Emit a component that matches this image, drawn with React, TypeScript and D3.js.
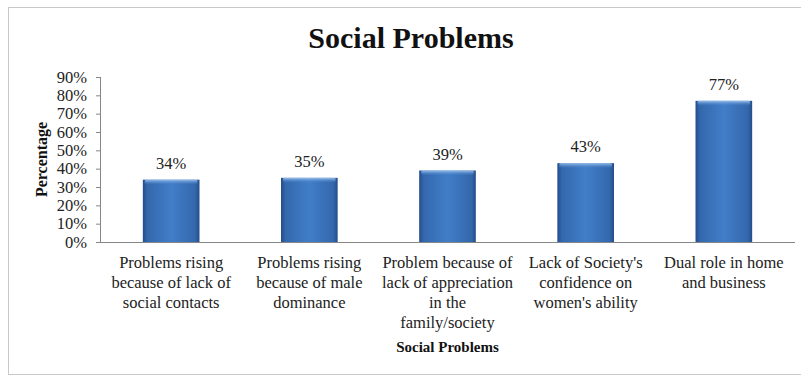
import React from "react";
import * as d3 from "d3";

const categories: string[][] = [
  ["Problems rising", "because of lack of", "social contacts"],
  ["Problems rising", "because of male", "dominance"],
  ["Problem because of", "lack of appreciation", "in the", "family/society"],
  ["Lack of Society's", "confidence on", "women's ability"],
  ["Dual role in home", "and business"],
];
const values: number[] = [0.34, 0.35, 0.39, 0.43, 0.77];
const yTicks: number[] = [0, 0.1, 0.2, 0.3, 0.4, 0.5, 0.6, 0.7, 0.8, 0.9];
const title = "Social Problems";
const xTitle = "Social Problems";
const yTitle = "Percentage";

const W = 801;
const H = 377;
const left = 100;
const right = 795;
const top = 77;
const bottom = 242;
const font = "'Liberation Serif', 'Times New Roman', serif";

export default function App() {
  const idx = categories.map((_, i) => String(i));
  const x = d3.scaleBand<string>().domain(idx).range([left, right]).paddingInner(0.59).paddingOuter(0.31);
  const y = d3.scaleLinear().domain([0, 0.9]).range([bottom, top]);
  const pct = d3.format(".0%");
  return (
    <svg
      width={W}
      height={H}
      style={{ position: "absolute", left: 0, top: 0, background: "#fff" }}
      fontFamily={font}
    >
      <defs>
        <linearGradient id="barG" x1="0" x2="1" y1="0" y2="0">
          <stop offset="0" stopColor="#244d8a" />
          <stop offset="0.08" stopColor="#3468ad" />
          <stop offset="0.5" stopColor="#417ec8" />
          <stop offset="0.92" stopColor="#3468ad" />
          <stop offset="1" stopColor="#244d8a" />
        </linearGradient>
        <linearGradient id="bevel" x1="0" x2="0" y1="0" y2="1">
          <stop offset="0" stopColor="#9cc0ec" />
          <stop offset="1" stopColor="#4a84cc" stopOpacity="0" />
        </linearGradient>
      </defs>
      <rect x={8.5} y={7.5} width={820} height={367} fill="#fff" stroke="#c9c9c9" />
      <text x={411} y={48} textAnchor="middle" fontSize={30} fontWeight="bold" fill="#111">
        {title}
      </text>
      {/* y axis */}
      <line x1={left + 0.5} x2={left + 0.5} y1={top} y2={bottom} stroke="#868686" />
      {yTicks.map((t) => (
        <g key={t}>
          <line x1={left - 4} x2={left} y1={y(t) + 0.5} y2={y(t) + 0.5} stroke="#868686" />
          <text x={87} y={y(t) + 5.5} textAnchor="end" fontSize={16.5} fill="#222">
            {pct(t)}
          </text>
        </g>
      ))}
      <text
        transform={`translate(47,${(top + bottom) / 2}) rotate(-90)`}
        textAnchor="middle"
        fontSize={16}
        fontWeight="bold"
        fill="#111"
      >
        {yTitle}
      </text>
      {/* bars */}
      {values.map((v, i) => {
        const bx = x(String(i))!;
        const bw = x.bandwidth();
        const by = y(v);
        const bh = bottom - by;
        return (
          <g key={i}>
            <rect x={bx} y={by} width={bw} height={bh} fill="url(#barG)" />
            <rect x={bx + 2} y={by} width={bw - 4} height={Math.min(5, bh)} rx={1.5} fill="url(#bevel)" />
            <text x={bx + bw / 2} y={by - 11} textAnchor="middle" fontSize={16.5} fill="#222">
              {pct(v)}
            </text>
          </g>
        );
      })}
      {/* x axis */}
      <line x1={left} x2={right} y1={bottom + 0.5} y2={bottom + 0.5} stroke="#868686" />
      {categories.map((lines, i) => (
        <text
          key={i}
          x={x(String(i))! + x.bandwidth() / 2}
          y={268}
          textAnchor="middle"
          fontSize={16.5}
          fill="#222"
        >
          {lines.map((l, j) => (
            <tspan key={j} x={x(String(i))! + x.bandwidth() / 2} dy={j === 0 ? 0 : 20}>
              {l}
            </tspan>
          ))}
        </text>
      ))}
      <text x={(left + right) / 2} y={352} textAnchor="middle" fontSize={15} fontWeight="bold" fill="#111">
        {xTitle}
      </text>
    </svg>
  );
}
